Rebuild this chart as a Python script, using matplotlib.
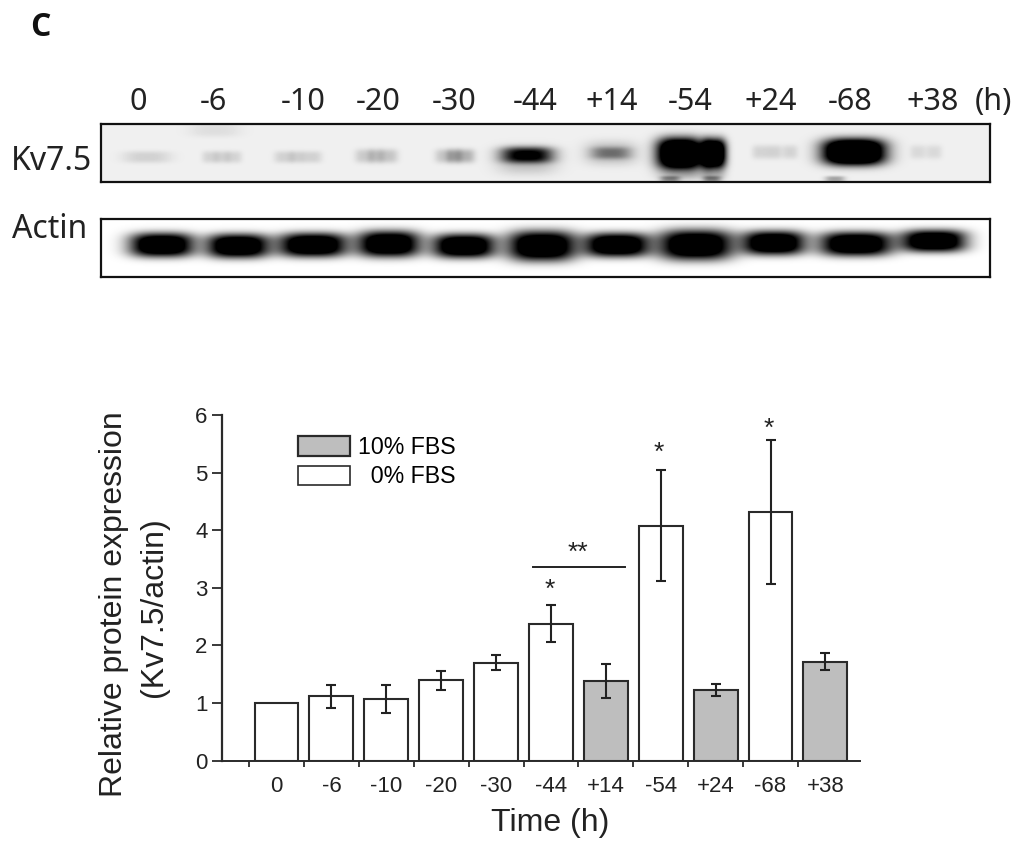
import numpy as np
import matplotlib
matplotlib.use('Agg')
import matplotlib.pyplot as plt
from matplotlib.patches import Patch

W, H = 1024, 848

# bar chart values
time_labels = ['0', '-6', '-10', '-20', '-30', '-44', '+14', '-54', '+24', '-68', '+38']
expression = [1.0, 1.12, 1.07, 1.40, 1.70, 2.38, 1.38, 4.08, 1.22, 4.32, 1.72]
errors = [0, 0.20, 0.245, 0.165, 0.13, 0.32, 0.30, 0.965, 0.105, 1.245, 0.15]
fbs10 = [0, 0, 0, 0, 0, 0, 1, 0, 1, 0, 1]

# blot band darkness
kv_strength = [.12, .12, .12, .15, .20, .85, .32, 1.7, .12, 1.8, .09, 1.6, .11, .11, .12, .12, .15, .17, .17, .25, .11, .11, .09,
               .25, .25, .35, .35, .30, .07, .20, .20]
actin_strength = [1.4] * 11

# blot layout, in pixels of the figure
blot_lanes = ['0', '-6', '-10', '-20', '-30', '-44', '+14', '-54', '+24', '-68', '+38']
blot_label_x = [138, 213, 303, 378, 454, 535, 612, 690, 771, 850, 933]
kv_x = [147, 222, 297, 376, 454, 527, 611, 680, 774, 854, 934, 714, 210, 234, 284, 312, 365, 388, 445, 465, 760, 790, 918,
        682, 714, 670, 712, 835, 215, 527, 611]
kv_y = [157, 157, 157, 156, 156, 155, 153, 153, 152, 152, 152, 153, 157, 157, 157, 157, 156, 156, 156, 156, 152, 152, 152,
        171, 171, 179, 179, 179, 130, 160, 153]
kv_w = [24, 8, 8, 8, 8, 26, 20, 23, 8, 31, 8, 12, 8, 8, 10, 10, 10, 10, 10, 10, 8, 8, 8,
        24, 12, 10, 9, 10, 26, 30, 26]
kv_h = [6, 6, 6, 7, 7, 8, 6, 15, 7, 13, 7, 14, 6, 6, 6, 6, 7, 7, 7, 7, 7, 7, 7,
        9, 9, 3, 3, 3, 7, 14, 12]
actin_x = [162, 238, 313, 389, 464, 542, 617, 696, 774, 856, 934]
actin_y = [245, 246, 245, 244, 246, 246, 245, 245, 243, 244, 241]
actin_w = [32, 31, 34, 31, 31, 34, 32, 37, 31, 36, 32]
actin_h = [12, 12, 12, 13, 12, 15, 12, 15, 12, 12, 11]


def draw_blot(rect, xs, ys, ws, hs, strengths, background):
    x0, y0, x1, y1 = rect
    ax = fig.add_axes([x0 / W, 1 - y1 / H, (x1 - x0) / W, (y1 - y0) / H])
    gx, gy = np.meshgrid(np.arange(x0, x1) + .5, np.arange(y0, y1) + .5)
    dark = np.full(gx.shape, background)
    for x, y, w, h, s in zip(xs, ys, ws, hs, strengths):
        dark += s * np.exp(-np.abs((gx - x) / w) ** 3 - np.abs((gy - y) / h) ** 3)
    ax.imshow(1 - np.clip(dark, 0, 1), cmap='gray', vmin=0, vmax=1, aspect='auto',
              extent=[x0, x1, y1, y0], interpolation='bilinear')
    ax.set_xticks([])
    ax.set_yticks([])
    for s in ax.spines.values():
        s.set_linewidth(1.6)
        s.set_color('#111111')
    return ax


fig = plt.figure(figsize=(W / 100, H / 100), dpi=100)

# panel letter and blot labels
label_font = 'Noto Sans'
fig.text(40 / W, 1 - 28 / H, 'C', family='Open Sans', fontsize=23, fontweight='bold', ha='center', va='center', color='#111111')
for x, t in zip(blot_label_x, blot_lanes):
    fig.text(x / W, 1 - 102 / H, t, family=label_font, fontsize=22, ha='center', va='center', color='#222222')
fig.text(993 / W, 1 - 102 / H, '(h)', family=label_font, fontsize=22, ha='center', va='center', color='#222222')
fig.text(51 / W, 1 - 161 / H, 'Kv7.5', family=label_font, fontsize=23, ha='center', va='center', color='#222222')
fig.text(50 / W, 1 - 230 / H, 'Actin', family=label_font, fontsize=23, ha='center', va='center', color='#222222')

draw_blot((101, 124, 990, 182), kv_x, kv_y, kv_w, kv_h, kv_strength, 0.06)
draw_blot((101, 219, 990, 277), actin_x, actin_y, actin_w, actin_h, actin_strength, 0.0)

# bar chart
plt.rcParams['font.family'] = 'Liberation Sans'
ax = fig.add_axes([222 / W, 1 - 760.7 / H, 638 / W, 345.7 / H])
x = np.arange(len(time_labels))
edge = '#2a2a2a'
colors = ['#bebebe' if f else 'white' for f in fbs10]
ax.bar(x, expression, width=0.8, color=colors, edgecolor=edge, linewidth=1.5, zorder=2)
ax.errorbar(x[1:], expression[1:], yerr=errors[1:], fmt='none', ecolor='#222222',
            elinewidth=1.5, capsize=3.5, capthick=1.5, zorder=3)

ax.set_xlim(-0.993, 10.63)
ax.set_ylim(0, 6)
ax.spines['top'].set_visible(False)
ax.spines['right'].set_visible(False)
ax.spines['left'].set_linewidth(1.6)
ax.spines['bottom'].set_linewidth(1.4)
ax.spines['left'].set_color(edge)
ax.spines['bottom'].set_color(edge)
ax.set_yticks(range(7))
ax.tick_params(axis='y', labelsize=16, length=7.5, width=1.3, pad=3, color=edge, labelcolor='#222222')
ax.set_xticks(x)
ax.set_xticklabels(time_labels, family='Liberation Sans')
ax.set_xticks(x - 0.5, minor=True)
ax.tick_params(axis='x', which='major', labelsize=16, length=0, pad=11, labelcolor='#222222')
ax.tick_params(axis='x', which='minor', length=4, width=1.3, color=edge)

fig.text(550 / W, 1 - 823 / H, 'Time (h)', fontsize=23, ha='center', va='center', color='#222222')
fig.text(114 / W, 1 - 604 / H, 'Relative protein expression', rotation=90, fontsize=23,
         ha='center', va='center', color='#222222')
fig.text(154 / W, 1 - 607 / H, '(Kv7.5/actin)', rotation=90, fontsize=23,
         ha='center', va='center', color='#222222')

# significance marks
ax.plot([4.67, 6.35], [3.36, 3.36], color='#222222', linewidth=1.4, zorder=3)
ax.text(5.5, 3.60, '**', fontsize=19, ha='center', va='center', color='#222222')
ax.text(4.97, 2.97, '*', fontsize=19, ha='center', va='center', color='#222222')
ax.text(6.97, 5.34, '*', fontsize=19, ha='center', va='center', color='#222222')
ax.text(8.97, 5.76, '*', fontsize=19, ha='center', va='center', color='#222222')

handles = [Patch(facecolor='#bebebe', edgecolor=edge, linewidth=1.6),
           Patch(facecolor='white', edgecolor=edge, linewidth=1.2)]
ax.legend(handles, ['10% FBS', '  0% FBS'], loc='upper left', bbox_to_anchor=(76 / 638, 1 - 21 / 345.7),
          frameon=False, fontsize=16.7, handlelength=2.24, handleheight=0.9, handletextpad=0.33,
          labelspacing=0.27, borderaxespad=0, borderpad=0)

fig.savefig('out.png', dpi=100)
